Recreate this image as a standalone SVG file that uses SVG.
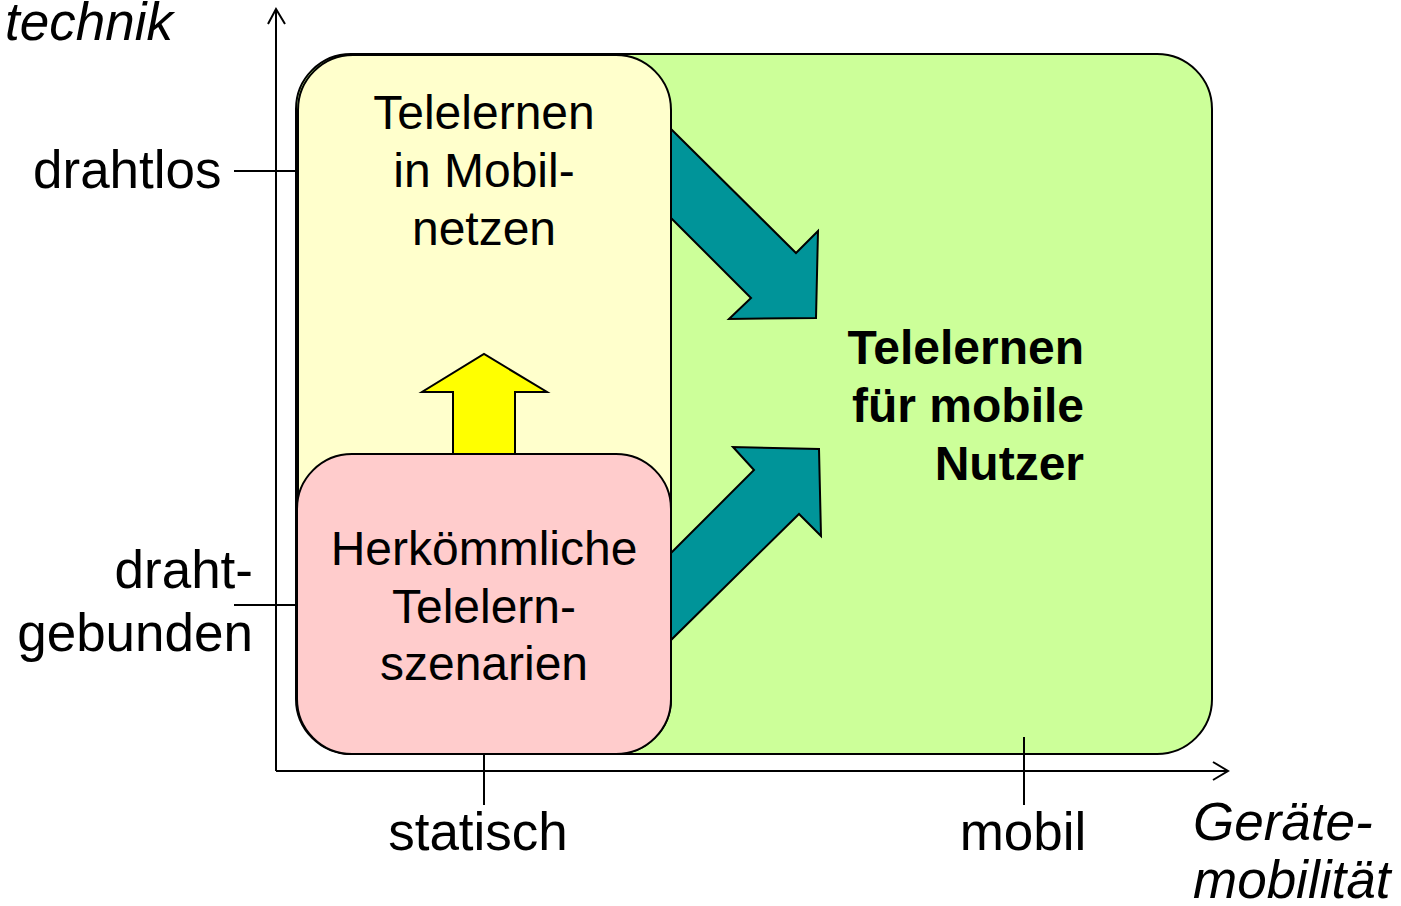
<svg xmlns="http://www.w3.org/2000/svg" width="1401" height="906" viewBox="0 0 1401 906">
  <style>
    .box { stroke: #000; stroke-width: 2; }
    .arrow { stroke: #000; stroke-width: 2; stroke-linejoin: miter; }
    .axis { stroke: #000; stroke-width: 2; fill: none; }
    .lbl { font-family: "Liberation Sans", Arial, sans-serif; font-size: 53px; fill: #000; }
    .it { font-style: italic; }
    .node { font-family: "Liberation Sans", Arial, sans-serif; font-size: 48px; fill: #000; text-anchor: middle; }
    .bold { font-weight: bold; font-size: 48px; text-anchor: end; }
  </style>

  <!-- axes and tick marks -->
  <g id="axes">
    <path class="axis" d="M276,771 V9 M268,24 L276,9 L285,24"/>
    <path class="axis" d="M276,771 H1228 M1213,762 L1228,771 L1213,780"/>
    <path class="axis" d="M234,171 H297 M234,605 H297 M484,754 V805"/>
  </g>

  <!-- axis labels -->
  <g id="axis-labels">
    <text class="lbl it" x="5" y="40">technik</text>
    <text class="lbl" x="33" y="188">drahtlos</text>
    <text class="lbl" x="253" y="588" text-anchor="end">draht-</text>
    <text class="lbl" x="253" y="651" text-anchor="end">gebunden</text>
    <text class="lbl" x="478" y="850" text-anchor="middle">statisch</text>
    <text class="lbl" x="1023" y="850" text-anchor="middle">mobil</text>
    <text class="lbl it" x="1193" y="840">Geräte-</text>
    <text class="lbl it" x="1193" y="898">mobilität</text>
  </g>

  <!-- mobile learning area -->
  <g id="node-mobile">
    <rect class="box" x="296" y="54" width="916" height="700" rx="55" ry="55" fill="#CCFF99"/>
    <text class="node bold" x="1084" y="364">Telelernen</text>
    <text class="node bold" x="1084" y="422">für mobile</text>
    <text class="node bold" x="1084" y="480">Nutzer</text>
  </g>

  <!-- learning in mobile networks -->
  <g id="node-mobilnetze">
    <rect class="box" x="298" y="55" width="373" height="699" rx="55" ry="55" fill="#FFFFCC"/>
    <text class="node" x="484" y="129">Telelernen</text>
    <text class="node" x="484" y="187">in Mobil-</text>
    <text class="node" x="484" y="245">netzen</text>
  </g>

  <!-- transitions -->
  <g id="connectors">
    <polygon class="arrow" fill="#FFFF00" points="453,455 453,392 422,392 484,354 547,392 515,392 515,455"/>
    <polygon class="arrow" fill="#009499" points="671,129 796,253 818,231 816,318 729,319 751,298 671,218"/>
    <polygon class="arrow" fill="#009499" points="671,553 754,470 733,447 819,449 821,536 799,514 671,640"/>
  </g>

  <!-- conventional scenarios -->
  <g id="node-herkoemmlich">
    <rect class="box" x="297" y="454" width="374" height="300" rx="55" ry="55" fill="#FFCCCC"/>
    <text class="node" x="484" y="565">Herkömmliche</text>
    <text class="node" x="484" y="623">Telelern-</text>
    <text class="node" x="484" y="680">szenarien</text>
  </g>

  <!-- tick for "mobil", drawn over the area -->
  <g id="tick-mobil">
    <path class="axis" d="M1024,737 V805"/>
  </g>
</svg>
